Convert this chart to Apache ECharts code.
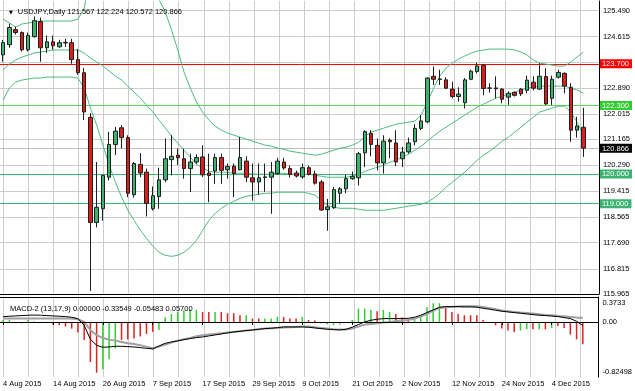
<!DOCTYPE html>
<html>
<head>
<meta charset="utf-8">
<script src="https://cdn.jsdelivr.net/npm/echarts@6/dist/echarts.min.js"></script>
<style>
html,body{margin:0;padding:0;background:#ffffff;}
#chart{width:635px;height:391px;}
</style>
</head>
<body>
<div id="chart"></div>
<script>
// ---------- trading days (categories) ----------
const augDays = [4,5,6,7,10,11,12,13,14,17,18,19,20,21,24,25,26,27,28,31];
const sepDays = [1,2,3,4,7,8,9,10,11,14,15,16,17,18,21,22,23,24,25,28,29,30];
const octDays = [1,2,5,6,7,8,9,12,13,14,15,16,19,20,21,22,23,26,27,28,29,30];
const novDays = [2,3,4,5,6,9,10,11,12,13,16,17,18,19,20,23,24,25,26,27,30];
const decDays = [1,2,3,4,7,8,9,10,11];
const monthNames = ['Aug','Sep','Oct','Nov','Dec'];

// ---------- OHLC ----------
const opens  = [124.00,124.34,124.85,124.75,124.17,124.61,125.12,124.24,124.44,124.27,124.40,124.41,123.84,123.40,121.90,118.37,118.83,119.89,120.99,121.55,121.22,119.30,120.32,120.06,118.83,119.24,119.80,120.48,120.63,120.51,120.18,120.40,120.57,120.03,120.10,120.55,120.14,120.26,120.14,120.43,119.87,119.73,119.88,119.89,120.01,120.40,120.18,120.03,119.90,120.21,120.00,119.73,118.80,118.86,119.35,119.50,119.84,119.87,120.71,121.36,120.96,120.37,121.13,121.04,120.51,120.74,121.08,121.53,121.75,123.28,123.17,123.16,122.85,122.60,122.39,123.18,123.44,123.65,122.88,122.89,122.85,122.58,122.74,122.85,122.81,123.08,122.85,123.27,122.54,123.25,123.38,122.91,121.47,121.567];
const highs  = [124.50,125.05,124.95,124.79,124.75,125.29,125.25,124.65,124.65,124.51,124.54,124.54,124.20,123.56,122.04,120.40,119.97,121.41,121.58,121.64,121.30,120.40,120.70,120.18,119.58,120.21,121.19,121.30,120.85,120.85,120.68,120.66,120.96,120.68,120.68,120.68,120.35,120.35,121.24,120.59,120.35,120.35,120.35,120.40,120.54,120.54,120.28,120.11,120.35,120.28,120.11,119.80,119.16,119.56,119.56,119.98,120.08,120.74,121.47,121.47,121.19,121.30,121.20,121.47,120.91,121.22,121.67,121.98,123.25,123.61,123.50,123.25,123.10,122.91,123.22,123.50,123.74,123.70,123.05,123.28,122.88,122.77,122.77,122.88,123.30,123.28,123.72,123.55,123.30,123.50,123.41,123.05,121.92,122.224];
const lows   = [123.77,124.24,124.68,124.11,124.11,124.58,123.77,124.07,124.17,124.24,124.27,123.70,123.33,121.81,116.07,118.20,118.43,119.78,120.63,120.85,119.22,119.20,119.89,118.57,118.77,118.83,119.72,119.95,120.30,119.84,119.39,120.33,119.89,119.05,119.67,119.67,119.84,119.22,120.12,119.73,119.10,119.30,119.40,118.66,119.97,120.14,119.88,119.88,119.84,119.95,119.64,118.76,118.09,118.83,119.00,119.35,119.80,119.61,120.23,120.59,120.12,120.01,120.53,120.26,120.23,120.68,120.96,121.47,121.70,122.99,122.99,122.85,122.54,122.43,122.20,123.15,123.38,122.64,122.73,122.54,122.37,122.32,122.60,122.62,122.71,122.81,122.82,122.32,122.32,123.20,122.71,121.08,121.22,120.572];
const closes = [124.41,124.92,124.75,124.17,124.65,125.15,124.24,124.44,124.31,124.41,124.42,123.84,123.40,122.08,118.37,118.88,119.95,120.99,121.44,121.22,119.35,120.35,120.03,119.01,119.27,119.80,120.51,120.59,120.54,120.18,120.40,120.55,119.97,119.95,120.55,120.12,120.25,120.01,120.55,119.89,119.73,119.87,119.90,120.06,120.43,120.20,119.98,119.93,120.21,119.98,119.69,118.79,118.89,119.47,119.50,119.84,119.92,120.68,121.42,120.99,120.37,121.10,121.08,120.40,120.73,121.04,121.53,121.78,123.22,123.18,123.19,122.88,122.60,122.68,123.16,123.45,123.63,122.87,122.89,122.86,122.51,122.71,122.64,122.69,123.15,122.88,123.28,122.35,123.18,123.41,122.95,121.47,121.61,120.866];

// ---------- Bollinger bands ----------
const bbUpper = [125.205,125.07,124.936,125.036,125.07,125.104,125.137,125.137,125.137,125.137,125.137,125.137,125.205,125.575,126.6,127.0,127.1,127.0,126.9,126.8,126.7,126.6,126.5,126.4,126.1,125.85,125.44,124.835,124.162,123.421,122.883,122.412,122.076,121.806,121.604,121.47,121.369,121.302,121.234,121.167,121.10,121.032,120.965,120.932,120.864,120.831,120.763,120.73,120.696,120.662,120.629,120.662,120.73,120.797,120.864,120.898,120.965,121.066,121.268,121.403,121.47,121.537,121.604,121.672,121.705,121.739,121.773,121.975,122.412,122.883,123.287,123.556,123.724,123.859,123.96,124.061,124.128,124.162,124.195,124.195,124.195,124.195,124.162,124.094,123.993,123.825,123.724,123.691,123.657,123.623,123.623,123.758,123.926,124.094];
const bbMiddle = [123.489,123.691,123.825,123.926,123.993,124.061,124.094,124.128,124.162,124.162,124.162,124.162,124.162,124.061,123.892,123.758,123.623,123.455,123.287,123.152,122.95,122.748,122.547,122.311,122.076,121.806,121.537,121.268,121.032,120.797,120.561,120.326,120.191,120.09,120.057,120.057,120.057,120.023,120.023,120.023,119.989,119.989,119.989,119.989,120.023,120.023,119.989,119.989,119.989,119.989,119.956,119.922,119.888,119.888,119.888,119.888,119.922,119.989,120.09,120.158,120.225,120.292,120.393,120.46,120.561,120.662,120.797,120.932,121.10,121.268,121.436,121.571,121.705,121.84,121.975,122.109,122.244,122.345,122.446,122.547,122.614,122.681,122.748,122.816,122.883,122.917,122.95,122.95,122.95,122.95,122.95,122.883,122.816,122.715];
const bbLower = [122.479,122.883,123.085,123.152,123.186,123.22,123.22,123.253,123.253,123.253,123.253,123.253,123.22,122.883,122.21,121.638,120.965,120.292,119.72,119.216,118.778,118.442,118.105,117.836,117.567,117.365,117.264,117.23,117.264,117.365,117.533,117.769,118.105,118.442,118.677,118.845,118.98,119.081,119.182,119.249,119.283,119.316,119.35,119.35,119.384,119.384,119.384,119.384,119.384,119.35,119.283,119.115,118.946,118.879,118.845,118.845,118.845,118.812,118.778,118.778,118.778,118.778,118.812,118.845,118.879,118.913,118.946,118.98,119.047,119.182,119.35,119.552,119.72,119.888,120.057,120.259,120.46,120.629,120.763,120.932,121.10,121.234,121.403,121.571,121.739,121.907,122.076,122.143,122.21,122.277,122.277,122.076,121.739,121.302];

// ---------- MACD-2 (13,17,9) ----------
const histUp = [0.03,0.03,null,null,0.03,0.01,null,null,null,null,null,null,null,null,null,null,-0.71,-0.56,-0.4,null,null,null,null,null,null,-0.12,0.07,0.12,0.15,0.17,0.18,0.18,null,null,0.15,null,null,null,null,0.1,null,null,0.05,0.05,0.075,null,null,null,0.075,null,null,null,-0.04,-0.05,-0.04,-0.01,0.03,0.2,0.2,0.18,null,0.18,0.15,null,null,null,0.05,0.1,0.22,0.28,0.28,null,null,null,null,null,null,null,null,null,null,null,null,-0.13,-0.11,null,-0.11,null,-0.09,null,null,null,null,null];
const histDown = [null,null,-0.02,-0.02,null,null,-0.01,-0.01,-0.04,-0.05,-0.07,-0.1,-0.16,-0.27,-0.6,-0.76,null,null,null,-0.27,-0.26,-0.25,-0.22,-0.18,-0.15,null,null,null,null,null,null,null,0.15,0.15,null,0.15,0.13,0.13,0.1,null,0.05,0.05,null,null,null,0.075,0.05,0.05,null,0.03,0.02,-0.02,null,null,null,null,null,null,null,null,0.16,null,null,0.12,0.07,0.03,null,null,null,null,null,0.22,0.15,0.12,0.1,0.1,0.1,0.03,0.0,-0.05,-0.1,-0.13,-0.15,null,null,-0.11,null,-0.11,null,-0.06,-0.09,-0.19,-0.26,-0.33549];
const macdMain = [0.078,0.085,0.09,0.095,0.1,0.103,0.1,0.095,0.09,0.085,0.08,0.07,0.05,-0.05,-0.26,-0.35,-0.38,-0.375,-0.365,-0.365,-0.37,-0.375,-0.385,-0.395,-0.405,-0.36,-0.32,-0.30,-0.285,-0.265,-0.25,-0.235,-0.225,-0.21,-0.195,-0.18,-0.165,-0.15,-0.14,-0.13,-0.12,-0.11,-0.1,-0.095,-0.085,-0.075,-0.075,-0.075,-0.075,-0.08,-0.09,-0.10,-0.11,-0.115,-0.12,-0.11,-0.08,-0.04,0.0,0.025,0.04,0.05,0.05,0.05,0.05,0.055,0.07,0.1,0.14,0.18,0.22,0.23,0.23,0.23,0.225,0.225,0.22,0.205,0.19,0.175,0.16,0.15,0.14,0.13,0.12,0.11,0.1,0.095,0.088,0.08,0.065,0.05,0.01,-0.05483];
const macdSignal = [0.05,0.05,0.05,0.05,0.05,0.05,0.05,0.05,0.05,0.05,0.05,0.05,0.04,0.0,-0.12,-0.2,-0.24,-0.265,-0.28,-0.3,-0.32,-0.33,-0.35,-0.37,-0.395,-0.37,-0.34,-0.31,-0.28,-0.26,-0.24,-0.215,-0.2,-0.19,-0.18,-0.17,-0.16,-0.15,-0.14,-0.13,-0.12,-0.11,-0.1,-0.095,-0.09,-0.085,-0.08,-0.075,-0.07,-0.07,-0.08,-0.09,-0.1,-0.11,-0.115,-0.115,-0.1,-0.07,-0.04,-0.03,-0.02,-0.01,0.0,0.01,0.02,0.03,0.05,0.08,0.12,0.17,0.21,0.22,0.225,0.23,0.235,0.235,0.235,0.225,0.21,0.19,0.17,0.16,0.15,0.14,0.135,0.125,0.115,0.105,0.1,0.09,0.085,0.075,0.065,0.057];

// ---------- tick labels / levels ----------
const priceTicks = [125.490,124.615,123.740,122.890,122.015,121.165,120.290,119.415,118.565,117.690,116.815,115.965];
const priceLabelTicks = [125.490,124.615,122.890,122.015,121.165,120.290,119.415,118.565,117.690,116.815,115.965];
const levelValues = [123.700,122.300,120.000,119.000];
const bidPrice = 120.866;
const macdTicks = [0.3733, 0, -0.82498];
const macdTickLabels = ['0.3733','0.00','-0.82498'];
const priceMin = 115.965, priceMax = 125.81;
const macdMin = -0.82498, macdMax = 0.3733;
const gridEvery = 4;   // bars between vertical grid lines
const labelEvery = 8;  // bars between date labels

// ---------- build ----------
const categories = [];
[augDays,sepDays,octDays,novDays,decDays].forEach((days,m)=>{
  days.forEach(d=>categories.push(d+' '+monthNames[m]+' 2015'));
});
const nBars = categories.length;
const nSlots = nBars + 2;                 // two empty slots at the right edge
const axisCats = categories.concat(['_pad1','_pad2']);
const candleData = opens.map((o,i)=>[o, closes[i], lows[i], highs[i]]);

const FONT = '"Liberation Sans", Arial, sans-serif';
const FS = 7.5;
const levelStyleNames = ['boxRed','boxLime','boxSea','boxSea'];
const levelLineColors = ['#ff0000','#5ad65a','#3cb371','#3cb371'];
const GRID_COLOR = '#cccccc';

// layout of the two panels
const PLOT_W = 602;
const slotW = PLOT_W / nSlots;
const lastGridBar = Math.floor((nBars - 1) / gridEvery) * gridEvery;
const MAIN = {top: 1, height: 293};
const SUB  = {top: 297, height: 80};

const gridStyle = {color:GRID_COLOR, width:1, type:'solid'};
const labelIdx = (i) => i % labelEvery === 0 && i < nBars;
const eq = (a,b) => Math.abs(a-b) < 1e-7;

const vGridAxis = (gi) => ({
  type:'value', gridIndex:gi, min:0, max:lastGridBar, interval:gridEvery, z:2,
  axisLine:{show:false}, axisTick:{show:false}, axisLabel:{show:false},
  splitLine:{show:true, lineStyle:gridStyle}
});

const option = {
  animation: false,
  backgroundColor: '#ffffff',
  textStyle: {fontFamily: FONT},
  title: [
    {
      left: 3, top: 3, z: 10,
      text: '{tri|▼}USDJPY,Daily ' + [opens[nBars-1], highs[nBars-1], lows[nBars-1], closes[nBars-1]].map(v=>v.toFixed(3)).join(' '),
      textStyle: {fontFamily: FONT, fontSize: FS, fontWeight: 'normal', color: '#000',
        rich: {tri: {fontFamily: '"DejaVu Sans"', fontSize: 5, color: '#000', padding: [2,5,0,1]}}}
    },
    {
      left: 5, top: 300, z: 10,
      text: 'MACD-2 (13,17,9) ' + [histUp[nBars-1] == null ? 0 : histUp[nBars-1], histDown[nBars-1], macdMain[nBars-1], macdSignal[nBars-1]].map(v=>v.toFixed(5)).join(' '),
      textStyle: {fontFamily: FONT, fontSize: FS, fontWeight: 'normal', color: '#000'}
    }
  ],
  grid: [
    {left: 0, width: PLOT_W, top: MAIN.top, height: MAIN.height, show: false},
    {left: 0, width: PLOT_W, top: SUB.top, height: SUB.height, show: false},
    {left: slotW/2, width: slotW*lastGridBar, top: MAIN.top, height: MAIN.height, show: false},
    {left: slotW/2, width: slotW*lastGridBar, top: SUB.top, height: SUB.height, show: false}
  ],
  xAxis: [
    {type:'category', gridIndex:0, data:axisCats, boundaryGap:true, z:6,
     axisLine:{show:true, lineStyle:{color:'#000', width:1}}, axisTick:{show:false}, axisLabel:{show:false}, splitLine:{show:false}},
    {type:'category', gridIndex:1, data:axisCats, boundaryGap:true, position:'bottom', z:6,
     axisLine:{show:true, lineStyle:{color:'#000', width:1}},
     axisTick:{show:true, alignWithLabel:true, interval:labelIdx, length:3, lineStyle:{color:'#000'}},
     axisLabel:{show:true, interval:labelIdx, align:'left', color:'#000', fontFamily:FONT, fontSize:FS, margin:3},
     splitLine:{show:false}},
    {type:'category', gridIndex:1, data:axisCats, boundaryGap:true, position:'top', z:6,
     axisLine:{show:true, lineStyle:{color:'#000', width:1}}, axisTick:{show:false}, axisLabel:{show:false}, splitLine:{show:false}},
    vGridAxis(2),
    vGridAxis(3)
  ],
  yAxis: [
    {type:'value', gridIndex:0, position:'right', min:priceMin, max:priceMax, z:6,
     axisLine:{show:true, lineStyle:{color:'#000', width:1}}, axisTick:{show:false}, splitLine:{show:false},
     axisLabel:{show:true, margin:1, fontFamily:FONT, fontSize:FS, color:'#000',
       customValues: priceLabelTicks.concat([bidPrice], levelValues),
       formatter: function (v) {
         const s = v.toFixed(3);
         if (eq(v, bidPrice)) return '{boxBlack|' + s + '}';
         for (let k = 0; k < levelValues.length; k++) if (eq(v, levelValues[k])) return '{' + levelStyleNames[k] + '|' + s + '}';
         return '{plain|' + s + '}';
       },
       rich: {
         plain: {fontFamily:FONT, fontSize:FS, color:'#000', padding:[0,0,0,3]},
         boxRed: {fontFamily:FONT, fontSize:FS, color:'#fff', backgroundColor:'#ff0000', padding:[1,3,0,2], lineHeight:9},
         boxLime: {fontFamily:FONT, fontSize:FS, color:'#fff', backgroundColor:'#33cc33', padding:[1,3,0,2], lineHeight:9},
         boxSea: {fontFamily:FONT, fontSize:FS, color:'#fff', backgroundColor:'#3cb371', padding:[1,3,0,2], lineHeight:9},
         boxBlack: {fontFamily:FONT, fontSize:FS, color:'#fff', backgroundColor:'#000000', padding:[1,3,0,2], lineHeight:9}
       }}},
    {type:'value', gridIndex:1, position:'right', min:macdMin, max:macdMax, z:6,
     axisLine:{show:true, lineStyle:{color:'#000', width:1}}, axisTick:{show:false}, splitLine:{show:false},
     axisLabel:{show:true, margin:1, fontFamily:FONT, fontSize:FS, color:'#000',
       customValues: macdTicks,
       formatter: function (v) {
         const k = macdTicks.findIndex(t => eq(t, v));
         const s = macdTickLabels[k];
         if (k === 0) return '{top|' + s + '}';
         if (k === macdTicks.length - 1) return '{bot|' + s + '}';
         return '{plain|' + s + '}';
       },
       rich: {
         plain: {fontFamily:FONT, fontSize:FS, color:'#000', padding:[0,0,0,3]},
         top: {fontFamily:FONT, fontSize:FS, color:'#000', padding:[12,0,0,3]},
         bot: {fontFamily:FONT, fontSize:FS, color:'#000', padding:[0,0,10,3]}
       }}},
    {type:'value', gridIndex:2, min:0, max:1, axisLine:{show:false}, axisTick:{show:false}, axisLabel:{show:false}, splitLine:{show:false}},
    {type:'value', gridIndex:3, min:0, max:1, axisLine:{show:false}, axisTick:{show:false}, axisLabel:{show:false}, splitLine:{show:false}}
  ],
  series: [
    {type:'line', name:'vgrid main', xAxisIndex:3, yAxisIndex:2, data:[[0,0]], symbol:'none', lineStyle:{opacity:0}, silent:true},
    {type:'line', name:'vgrid sub', xAxisIndex:4, yAxisIndex:3, data:[[0,0]], symbol:'none', lineStyle:{opacity:0}, silent:true},
    // price grid + support / resistance levels + bid line, all in one mark-line set
    {type:'line', name:'levels', xAxisIndex:0, yAxisIndex:0, data:[], silent:true, z:2,
     markLine:{silent:true, z:2, symbol:'none', animation:false, label:{show:false},
       data: priceTicks.map(v=>({yAxis:v, lineStyle:{color:GRID_COLOR, width:1, type:'solid'}}))
             .concat(levelValues.map((v,k)=>({yAxis:v, lineStyle:{color:levelLineColors[k], width:1, type:'solid'}})))
             .concat([{yAxis:bidPrice, lineStyle:{color:'#bdbdbd', width:1, type:'solid'}}])}},
    {type:'line', name:'BB upper', xAxisIndex:0, yAxisIndex:0, data:bbUpper, symbol:'none', z:3, silent:true,
     lineStyle:{color:'#4cbb7f', width:1}},
    {type:'line', name:'BB middle', xAxisIndex:0, yAxisIndex:0, data:bbMiddle, symbol:'none', z:3, silent:true,
     lineStyle:{color:'#4cbb7f', width:1}},
    {type:'line', name:'BB lower', xAxisIndex:0, yAxisIndex:0, data:bbLower, symbol:'none', z:3, silent:true,
     lineStyle:{color:'#4cbb7f', width:1}},
    {type:'candlestick', name:'USDJPY', xAxisIndex:0, yAxisIndex:0, data:candleData, barWidth:4, z:4,
     itemStyle:{color:'#3cb371', color0:'#d81e1e', borderColor:'#1e1e1e', borderColor0:'#1e1e1e', borderWidth:1}},
    {type:'bar', name:'hist up', xAxisIndex:1, yAxisIndex:1, data:histUp, barWidth:1.5, barGap:'-100%', z:3,
     itemStyle:{color:'#33cc33'},
     markLine:{silent:true, z:2, symbol:'none', animation:false, label:{show:false},
       data: [{yAxis:0, lineStyle:{color:GRID_COLOR, width:1, type:'solid'}}]}},
    {type:'bar', name:'hist down', xAxisIndex:1, yAxisIndex:1, data:histDown, barWidth:1.5, barGap:'-100%', z:3,
     itemStyle:{color:'#dd2222'}},
    {type:'line', name:'signal', xAxisIndex:1, yAxisIndex:1, data:macdSignal, symbol:'none', z:4,
     lineStyle:{color:'#a0a0a0', width:2}},
    {type:'line', name:'macd', xAxisIndex:1, yAxisIndex:1, data:macdMain, symbol:'none', z:5,
     lineStyle:{color:'#000000', width:1}}
  ]
};

const chart = echarts.init(document.getElementById('chart'), null, {renderer:'canvas'});
chart.setOption(option);
</script>
</body>
</html>
